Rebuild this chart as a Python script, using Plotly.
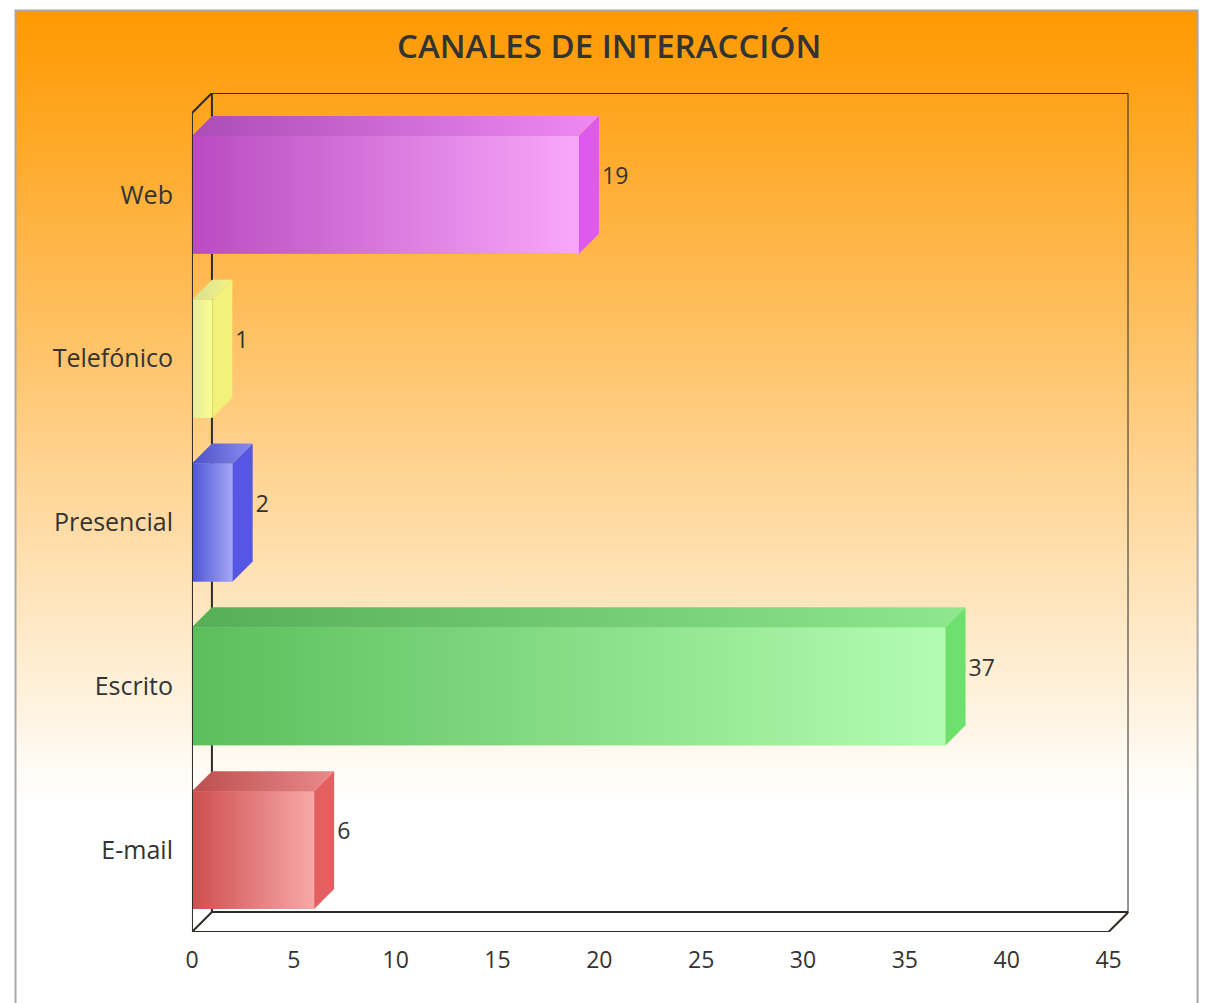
import plotly.graph_objects as go

# ---- data ----
categories = ["E-mail", "Escrito", "Presencial", "Telefónico", "Web"]
values = [6, 37, 2, 1, 19]
x_ticks = [0, 5, 10, 15, 20, 25, 30, 35, 40, 45]

# ---- styles ----
front_left = ["#CE4E4E", "#5BBE5B", "#4C54D6", "#E4EDA0", "#B94BC1"]
front_right = ["#F9A9A9", "#B3FDB3", "#A6A8F6", "#FCFC8E", "#F9A8FB"]
top_left = ["#BD4E4E", "#56AE56", "#4A50C8", "#D8E090", "#AC4CB6"]
top_right = ["#E98A8A", "#8EE88E", "#8C8CF0", "#F4F488", "#F08AF2"]
side_col = ["#E46060", "#6EE06E", "#5656E4", "#F2F27A", "#DE5AEE"]
mid_col = ["#E47A7A", "#86DD86", "#7A7EE8", "#F0F496", "#DA7ADE"]

W, H = 1208, 1003
OFFX, OFFY = 10, 8   # page body margin compensation (px)
XMAX = 45
DX = 0.98     # depth in x units
DY = 0.122    # depth in category units
HW = 0.36     # half bar width
FRAME = "#2e2a26"
TXT = "#333333"
FONT = "Open Sans"


def px_x(p):
    return min(1.0, max(0.0, (p - OFFX) / W))


def px_y(p):
    return min(1.0, max(0.0, 1 - (p - OFFY) / H))


fig = go.Figure()

# background gradient panel (on its own full-size axes, drawn first)
fig.add_trace(go.Scatter(
    x=[0, 1, 1, 0, 0], y=[0, 0, 1, 1, 0], mode="lines", fill="toself",
    line=dict(width=0), hoverinfo="skip", showlegend=False,
    fillgradient=dict(type="vertical", start=0, stop=1,
                      colorscale=[[0, "#FFFFFF"], [0.21, "#FFFFFF"],
                                  [0.45, "#FFE0B0"], [0.7, "#FFBE5C"],
                                  [1, "#FF9900"]]),
    xaxis="x", yaxis="y"))

ypos = list(range(len(categories)))

# main bars (front faces)
fig.add_trace(go.Bar(
    y=ypos, x=values, orientation="h", width=2 * HW, base=0,
    marker=dict(color=mid_col, line=dict(width=0)),
    hoverinfo="skip", showlegend=False, xaxis="x2", yaxis="y2"))

for i, (k, v) in enumerate(zip(ypos, values)):
    b, t = k - HW, k + HW
    # front gradient
    fig.add_trace(go.Scatter(
        x=[0, v, v, 0, 0], y=[b, b, t, t, b], mode="lines", fill="toself",
        line=dict(width=0), hoverinfo="skip", showlegend=False,
        fillgradient=dict(type="horizontal", start=0, stop=v,
                          colorscale=[[0, front_left[i]], [1, front_right[i]]]),
        xaxis="x2", yaxis="y2"))
    # top face
    fig.add_trace(go.Scatter(
        x=[0, v, v + DX, DX, 0], y=[t, t, t + DY, t + DY, t], mode="lines",
        fill="toself", line=dict(width=0), hoverinfo="skip", showlegend=False,
        fillgradient=dict(type="horizontal", start=0, stop=v + DX,
                          colorscale=[[0, top_left[i]], [1, top_right[i]]]),
        xaxis="x2", yaxis="y2"))
    # side face
    fig.add_trace(go.Scatter(
        x=[v, v + DX, v + DX, v, v], y=[b, b + DY, t + DY, t, b], mode="lines",
        fill="toself", fillcolor=side_col[i], line=dict(width=0),
        hoverinfo="skip", showlegend=False, xaxis="x2", yaxis="y2"))

# value labels
fig.add_trace(go.Scatter(
    x=[v + DX + 0.15 for v in values], y=[k + 0.1 for k in ypos], mode="text",
    text=[str(v) for v in values], textposition="middle right",
    textfont=dict(family=FONT, size=23, color=TXT), cliponaxis=False,
    hoverinfo="skip", showlegend=False, xaxis="x2", yaxis="y2"))

# 3D frame
y_lo, y_hi = -0.5, len(categories) - 0.5
shapes = [
    # outer container border
    dict(type="rect", xref="paper", yref="paper", x0=px_x(10.5), x1=px_x(1199.5),
         y0=-0.02, y1=px_y(10.5), line=dict(color="#A8A8A8", width=2),
         layer="above"),
    # back plane
    dict(type="rect", xref="x2", yref="y2", x0=DX, x1=XMAX + DX,
         y0=y_lo + DY, y1=y_hi + DY, line=dict(color=FRAME, width=2), layer="below"),
    # front left line
    dict(type="line", xref="x2", yref="y2", x0=0, x1=0, y0=y_lo, y1=y_hi,
         line=dict(color=FRAME, width=2), layer="above"),
    # front bottom line
    dict(type="line", xref="x2", yref="y2", x0=0, x1=XMAX, y0=y_lo, y1=y_lo,
         line=dict(color=FRAME, width=2), layer="above"),
    # diagonals
    dict(type="line", xref="x2", yref="y2", x0=0, x1=DX, y0=y_hi, y1=y_hi + DY,
         line=dict(color=FRAME, width=2), layer="above"),
    dict(type="line", xref="x2", yref="y2", x0=0, x1=DX, y0=y_lo, y1=y_lo + DY,
         line=dict(color=FRAME, width=2), layer="above"),
    dict(type="line", xref="x2", yref="y2", x0=XMAX, x1=XMAX + DX, y0=y_lo,
         y1=y_lo + DY, line=dict(color=FRAME, width=2), layer="above"),
]

fig.update_layout(
    width=W, height=H,
    margin=dict(l=0, r=0, t=0, b=0),
    paper_bgcolor="white", plot_bgcolor="rgba(0,0,0,0)",
    showlegend=False, barmode="overlay",
    font=dict(family=FONT, color=TXT),
    shapes=shapes,
    xaxis=dict(domain=[px_x(10.5), px_x(1199.5)], range=[0, 1],
               visible=False, fixedrange=True),
    yaxis=dict(domain=[0, px_y(10.5)], range=[0, 1], visible=False,
               fixedrange=True),
    xaxis2=dict(domain=[px_x(188), px_x(1130)], range=[0, XMAX + DX],
                anchor="y2", tickmode="array", tickvals=x_ticks,
                ticktext=[str(t) for t in x_ticks], showgrid=False,
                zeroline=False, showline=False, ticks="",
                ticklabelstandoff=12,
                tickfont=dict(family=FONT, size=23, color=TXT)),
    yaxis2=dict(domain=[px_y(932), px_y(93)], range=[y_lo, y_hi + DY],
                anchor="x2", tickmode="array", tickvals=ypos,
                ticktext=categories, showgrid=False, zeroline=False,
                showline=False, ticks="", ticklabelstandoff=18,
                tickfont=dict(family=FONT, size=25, color=TXT)),
    annotations=[dict(text="CANALES DE INTERACCIÓN", xref="paper",
                      yref="paper", x=px_x(607), y=px_y(46), xanchor="center",
                      yanchor="middle", showarrow=False,
                      font=dict(family=FONT, size=33, color=TXT, weight=600))],
)

fig.write_html("out.html")
